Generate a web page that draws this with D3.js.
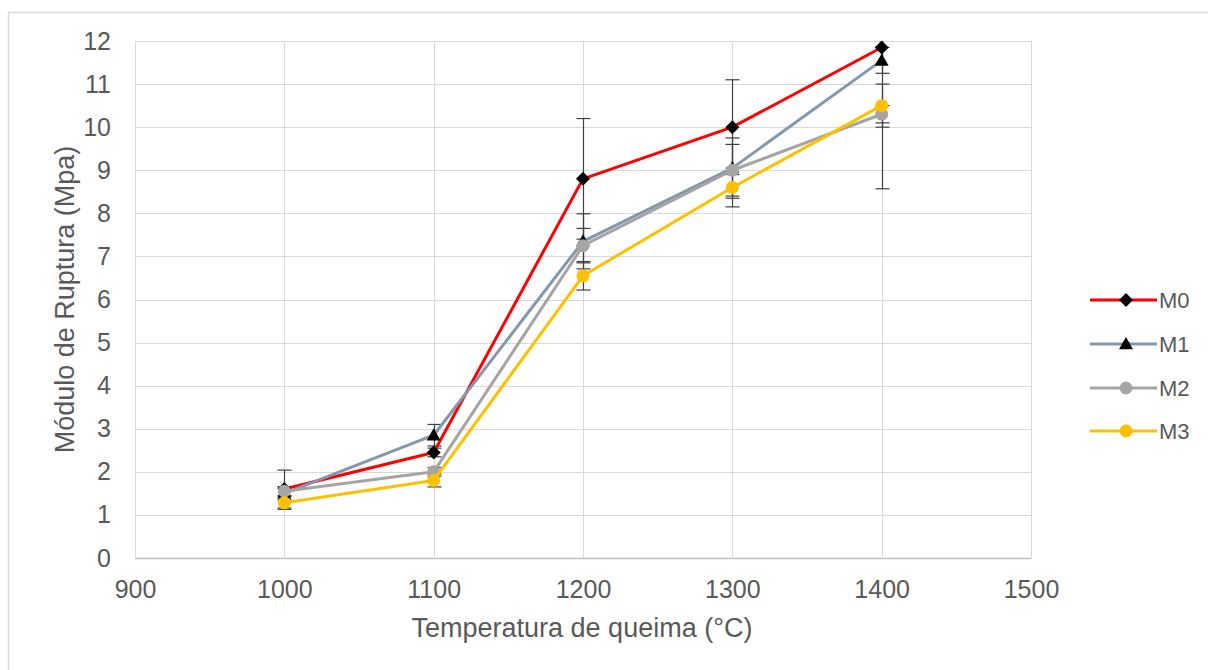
<!DOCTYPE html>
<html>
<head>
<meta charset="utf-8">
<script src="https://cdn.jsdelivr.net/npm/d3@7"></script>
<style>
  html, body { margin: 0; padding: 0; background: #fff; }
  svg { display: block; font-family: "Liberation Sans", Arial, sans-serif; }
</style>
</head>
<body>
<svg id="chart" width="1208" height="670"></svg>
<script>
// ---- data ----
const temperatures = [1000, 1100, 1200, 1300, 1400];
const seriesNames = ["M0", "M1", "M2", "M3"];
const valuesM0 = [1.6, 2.45, 8.8, 10.0, 11.85];
const valuesM1 = [1.5, 2.85, 7.35, 9.05, 11.55];
const valuesM2 = [1.55, 2.0, 7.25, 9.0, 10.3];
const valuesM3 = [1.28, 1.8, 6.55, 8.6, 10.5];
const errorsM0 = [0.44, 0.1, 1.4, 1.1, 3.28];
const errorsM1 = [0.15, 0.25, 0.64, 0.7, 0.3];
const errorsM2 = [0.1, 0.1, 0.4, 0.6, 0.2];
const errorsM3 = [0.15, 0.15, 0.33, 0.45, 0.5];
const xTicks = [900, 1000, 1100, 1200, 1300, 1400, 1500];
const yTicks = [0, 1, 2, 3, 4, 5, 6, 7, 8, 9, 10, 11, 12];
const xTitle = "Temperatura de queima (°C)";
const yTitle = "Módulo de Ruptura (Mpa)";

const series = [
  { name: seriesNames[0], values: valuesM0, errors: errorsM0, color: "#FF0000", marker: "diamond", markerColor: "#000000" },
  { name: seriesNames[1], values: valuesM1, errors: errorsM1, color: "#8497B0", marker: "triangle", markerColor: "#000000" },
  { name: seriesNames[2], values: valuesM2, errors: errorsM2, color: "#A5A5A5", marker: "circle", markerColor: "#A5A5A5" },
  { name: seriesNames[3], values: valuesM3, errors: errorsM3, color: "#FFC000", marker: "circle", markerColor: "#FFC000" }
];

// ---- layout ----
const svg = d3.select("#chart");
const plot = { left: 135, right: 1031, top: 41, bottom: 558 };
const x = d3.scaleLinear().domain([900, 1500]).range([plot.left, plot.right]);
const y = d3.scaleLinear().domain([0, 12]).range([plot.bottom, plot.top]);
const yMax = 12;
const textColor = "#595959";

// outer frame
svg.append("rect").attr("x", 8.5).attr("y", 12.5).attr("width", 1215).attr("height", 670)
  .attr("fill", "none").attr("stroke", "#D9D9D9").attr("stroke-width", 1.5);

// gridlines
svg.append("g").selectAll("line.h").data(yTicks.filter(d => d > 0)).join("line")
  .attr("x1", plot.left).attr("x2", plot.right)
  .attr("y1", d => Math.round(y(d)) + 0.5).attr("y2", d => Math.round(y(d)) + 0.5)
  .attr("stroke", "#D9D9D9").attr("stroke-width", 1);
svg.append("g").selectAll("line.v").data(xTicks).join("line")
  .attr("x1", d => Math.round(x(d)) + 0.5).attr("x2", d => Math.round(x(d)) + 0.5)
  .attr("y1", plot.top).attr("y2", plot.bottom)
  .attr("stroke", "#D9D9D9").attr("stroke-width", 1);

// axes (d3 axes, styled like Excel)
const xAxis = svg.append("g").attr("transform", `translate(0,${plot.bottom})`)
  .call(d3.axisBottom(x).tickValues(xTicks).tickSize(0).tickPadding(22).tickFormat(d3.format("d")));
xAxis.select(".domain").attr("stroke", "#BFBFBF").attr("stroke-width", 1.5);
xAxis.selectAll("text").attr("fill", textColor).attr("font-size", 25).attr("font-family", "Liberation Sans, Arial, sans-serif");

const yAxis = svg.append("g").attr("transform", `translate(${plot.left},0)`)
  .call(d3.axisLeft(y).tickValues(yTicks).tickSize(0).tickPadding(24).tickFormat(d3.format("d")));
yAxis.select(".domain").remove();
yAxis.selectAll("text").attr("fill", textColor).attr("font-size", 25).attr("font-family", "Liberation Sans, Arial, sans-serif");

// axis titles
svg.append("text").attr("x", 582).attr("y", 637)
  .attr("text-anchor", "middle").attr("fill", textColor).attr("font-size", 27).text(xTitle);
svg.append("text").attr("transform", `translate(74,${(plot.top + plot.bottom) / 2}) rotate(-90)`)
  .attr("text-anchor", "middle").attr("fill", textColor).attr("font-size", 27).text(yTitle);

// marker symbols
function symbolPath(type, size) {
  if (type === "diamond") return `M0,${-size}L${size},0L0,${size}L${-size},0Z`;
  if (type === "triangle") return `M0,${-size}L${size},${size * 0.75}L${-size},${size * 0.75}Z`;
  return d3.symbol().type(d3.symbolCircle).size(Math.PI * size * size)();
}

// error bars (clipped at the axis maximum, no cap beyond it)
const errG = svg.append("g");
series.forEach(s => {
  s.values.forEach((v, i) => {
    const xp = Math.round(x(temperatures[i])) + 0.5;
    const lo = Math.max(v - s.errors[i], 0), hi = Math.min(v + s.errors[i], yMax);
    errG.append("line").attr("x1", xp).attr("x2", xp).attr("y1", y(lo)).attr("y2", y(hi))
      .attr("stroke", "#3F3F3F").attr("stroke-width", 1.2);
    [v - s.errors[i], v + s.errors[i]].forEach(e => {
      if (e < 0 || e > yMax) return;
      errG.append("line").attr("x1", xp - 7).attr("x2", xp + 7).attr("y1", y(e)).attr("y2", y(e))
        .attr("stroke", "#3F3F3F").attr("stroke-width", 1.2);
    });
  });
});

// lines and markers
const line = d3.line().x((d, i) => x(temperatures[i])).y(d => y(d));
series.forEach(s => {
  svg.append("path").datum(s.values).attr("d", line)
    .attr("fill", "none").attr("stroke", s.color).attr("stroke-width", 3).attr("stroke-linejoin", "round");
  svg.append("g").selectAll("path").data(s.values).join("path")
    .attr("transform", (d, i) => `translate(${x(temperatures[i])},${y(d)})`)
    .attr("d", symbolPath(s.marker, s.marker === "circle" ? 6.5 : 7))
    .attr("fill", s.markerColor);
});

// legend
const legend = svg.append("g");
const legendY = [300, 344, 388, 431];
series.forEach((s, i) => {
  const g = legend.append("g").attr("transform", `translate(0,${legendY[i]})`);
  g.append("line").attr("x1", 1090).attr("x2", 1157).attr("y1", 0).attr("y2", 0)
    .attr("stroke", s.color).attr("stroke-width", 3);
  g.append("path").attr("transform", "translate(1126,0)")
    .attr("d", symbolPath(s.marker, s.marker === "circle" ? 6.5 : 7)).attr("fill", s.markerColor);
  g.append("text").attr("x", 1159).attr("y", 0).attr("dy", "0.35em")
    .attr("fill", textColor).attr("font-size", 22).text(s.name);
});
</script>
</body>
</html>
